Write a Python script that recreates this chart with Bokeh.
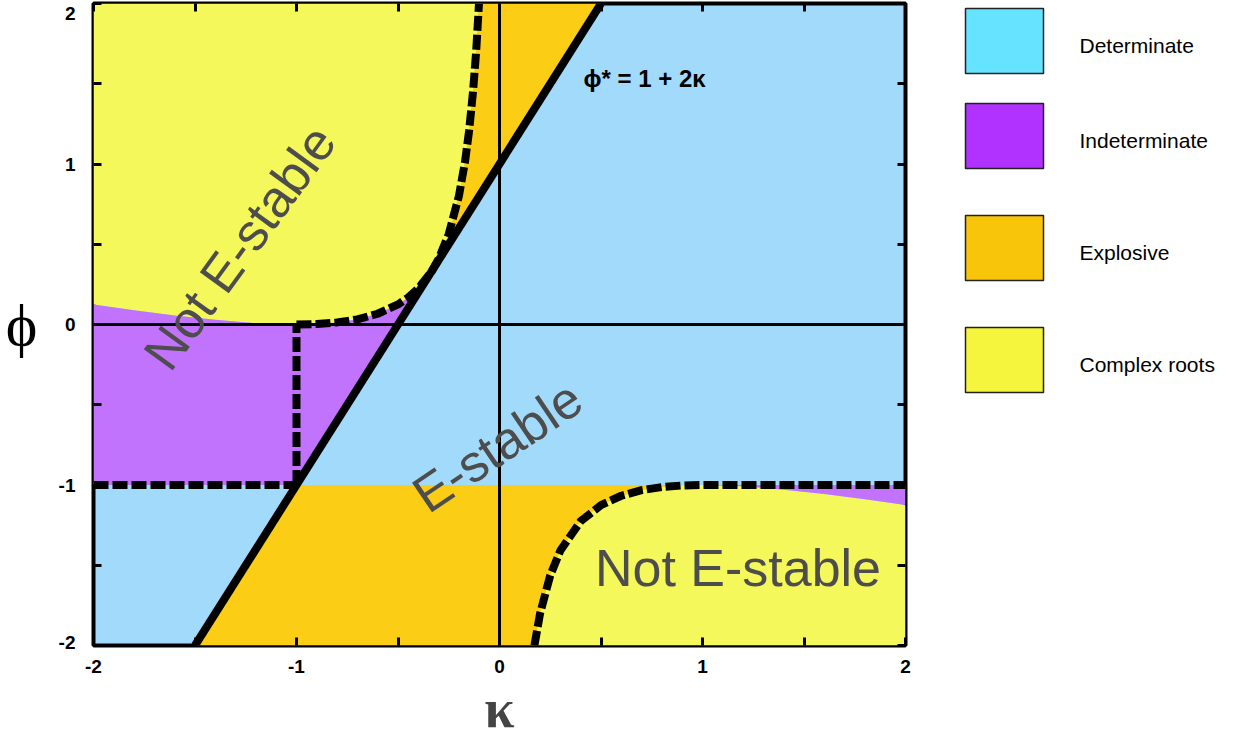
from bokeh.plotting import figure
from bokeh.models import Range1d, FixedTicker, LinearAxis, CustomJSTickFormatter
from bokeh.layouts import row
from bokeh.core.properties import value
from bokeh.embed import file_html
from bokeh.resources import INLINE

# ---------------- data ----------------
# upper stability boundary (complex-root curve, kappa < 0)
kappa_upper = [-2.0, -1.8, -1.6, -1.4, -1.2, -1.0, -0.9, -0.8, -0.7, -0.6, -0.5,
               -0.45, -0.4, -0.333, -0.3, -0.25, -0.2, -0.17, -0.15, -0.13, -0.115, -0.101]
phi_upper = [0.125, 0.089, 0.056, 0.029, 0.008, 0.0, 0.003, 0.013, 0.032, 0.067, 0.125,
             0.168, 0.225, 0.333, 0.408, 0.563, 0.8, 1.013, 1.204, 1.456, 1.70, 2.0]
# lower boundary (complex-root curve, kappa > 0)
kappa_lower = [0.172, 0.2, 0.25, 0.3, 0.4, 0.5, 0.6, 0.7, 0.8, 0.9, 1.0, 1.2, 1.4, 1.6, 1.8, 2.0]
phi_lower = [-2.0, -1.8, -1.563, -1.408, -1.225, -1.125, -1.067, -1.032, -1.013, -1.003,
             -1.0, -1.008, -1.029, -1.056, -1.089, -1.125]
# phi* = 1 + 2 kappa
line_kappa = [-1.5, 0.5]
line_phi = [-2.0, 2.0]
tangent_kappa = -0.333
corner_kappa = -1.0
corner_phi = -1.0
x_lo, x_hi = -2.0, 2.0
y_lo, y_hi = -2.0, 2.0
major_ticks = [-2, -1, 0, 1, 2]
minor_ticks = [-1.5, -0.5, 0.5, 1.5]

legend_labels = ["Determinate", "Indeterminate", "Explosive", "Complex roots"]
legend_colors = ["#66e3ff", "#b131ff", "#f9c50b", "#f4f53c"]

C_BLUE = "#a2dafc"
C_PURPLE = "#c273fe"
C_ORANGE = "#fbcd14"
C_YELLOW = "#f4f85a"

FONT = "Liberation Sans"
W, H = 1233, 738
FW, FH = 812, 642          # frame size
TOP, BOTTOM = 3, 93        # borders
LEFT_FIG = 48
px_per_unit = FH / (y_hi - y_lo)

# ---------------- main figure ----------------
p = figure(frame_width=FW, frame_height=FH, min_border_left=93 - LEFT_FIG, min_border_top=TOP,
           min_border_right=10, min_border_bottom=BOTTOM,
           x_range=Range1d(x_lo, x_hi), y_range=Range1d(y_lo, y_hi),
           output_backend="svg", toolbar_location=None)
p.background_fill_color = C_BLUE
p.border_fill_color = "white"
p.outline_line_color = "black"
p.outline_line_width = 4
p.grid.visible = False

def idx(arr, v):
    return min(range(len(arr)), key=lambda i: abs(arr[i] - v))

it = idx(kappa_upper, tangent_kappa)
ic = idx(kappa_upper, corner_kappa)
il1 = idx(kappa_lower, 1.0)

# yellow (top-left)
p.patch(kappa_upper + [x_lo], phi_upper + [y_hi], color=C_YELLOW, line_width=0)
# orange (top, between curve and boundary line)
p.patch(kappa_upper[it:] + [line_kappa[1]], phi_upper[it:] + [line_phi[1]],
        color=C_ORANGE, line_width=0)
# purple (left)
p.patch(kappa_upper[:it + 1] + [corner_kappa, x_lo], phi_upper[:it + 1] + [corner_phi, corner_phi],
        color=C_PURPLE, line_width=0)
# orange (bottom)
p.patch([corner_kappa] + kappa_lower[:il1 + 1][::-1] + [line_kappa[0]],
        [corner_phi] + phi_lower[:il1 + 1][::-1] + [line_phi[0]],
        color=C_ORANGE, line_width=0)
# yellow (bottom-right)
p.patch(kappa_lower + [x_hi], phi_lower + [y_lo], color=C_YELLOW, line_width=0)
# purple wedge (right)
p.patch([kappa_lower[il1], x_hi] + kappa_lower[il1:][::-1],
        [-1.0, -1.0] + phi_lower[il1:][::-1], color=C_PURPLE, line_width=0)

# coordinate axes
p.line([x_lo, x_hi], [0, 0], line_color="black", line_width=3)
p.line([0, 0], [y_lo, y_hi], line_color="black", line_width=3)

# texts in regions
p.text(x=[-1.28], y=[0.48], text=["Not E-stable"], angle=54, angle_units="deg",
       text_font=value(FONT), text_font_size="52px", text_color="#4d4d4d",
       text_align="center", text_baseline="middle")
p.text(x=[-0.01], y=[-0.76], text=["E-stable"], angle=34, angle_units="deg",
       text_font=value(FONT), text_font_size="52px", text_color="#4d4d4d",
       text_align="center", text_baseline="middle")
p.text(x=[0.47], y=[-1.52], text=["Not E-stable"],
       text_font=value(FONT), text_font_size="52px", text_color="#4d4d4d",
       text_align="left", text_baseline="middle")

# boundary line
p.line(line_kappa, line_phi, line_color="black", line_width=8)

# dashed boundaries
dash = dict(line_color="black", line_width=8, line_dash="15 4")
p.line(kappa_upper[ic:], phi_upper[ic:], **dash)
p.line([corner_kappa, corner_kappa], [corner_phi, 0.0], **dash)
p.line([x_lo, corner_kappa], [corner_phi, corner_phi], **dash)
p.line(kappa_lower[:il1 + 1] + [x_hi], phi_lower[:il1 + 1] + [-1.0], **dash)

p.text(x=[0.414], y=[1.535], text=["ϕ* = 1 + 2κ"], text_font=value(FONT),
       text_font_size="24px", text_font_style="bold", text_color="black",
       text_align="left", text_baseline="middle")

# ---------------- axes ----------------
blank_fmt = CustomJSTickFormatter(code="return '';")
int_fmt = CustomJSTickFormatter(code="return Math.round(tick).toFixed(0);")

def style_ticks(ax):
    ax.ticker = FixedTicker(ticks=major_ticks, minor_ticks=minor_ticks)
    ax.major_tick_in = 8
    ax.major_tick_out = 0
    ax.minor_tick_in = 8
    ax.minor_tick_out = 0
    ax.major_tick_line_width = 3
    ax.minor_tick_line_width = 3
    ax.axis_line_color = None

def style_labels(ax):
    ax.major_label_text_font = FONT
    ax.major_label_text_font_style = "bold"
    ax.major_label_text_color = "black"
    ax.major_label_text_font_size = "19px"

# bottom axis: ticks + labels + kappa title
xb = p.xaxis[0]
style_ticks(xb)
style_labels(xb)
xb.formatter = int_fmt
xb.major_label_standoff = 14
xb.axis_label = "κ"
xb.axis_label_text_font = "Liberation Serif"
xb.axis_label_text_font_size = "54px"
xb.axis_label_text_font_style = "bold"
xb.axis_label_standoff = 3

# left axis (inner): tick marks only
yl = p.yaxis[0]
style_ticks(yl)
yl.formatter = blank_fmt
yl.major_label_standoff = 0

# left axis (outer): labels only; top label nudged down inside the page, bottom nudged up
label_nudge_px = {2: 10, -2: -3}
label_pos = [t - label_nudge_px.get(t, 0) / px_per_unit for t in major_ticks]
yl2 = LinearAxis(ticker=FixedTicker(ticks=label_pos), formatter=int_fmt)
style_labels(yl2)
yl2.major_tick_in = 0
yl2.major_tick_out = 0
yl2.minor_tick_in = 0
yl2.minor_tick_out = 0
yl2.major_tick_line_color = None
yl2.minor_tick_line_color = None
yl2.axis_line_color = None
yl2.major_label_standoff = 18
p.add_layout(yl2, "left")

top_ax = LinearAxis()
right_ax = LinearAxis()
for ax in (top_ax, right_ax):
    style_ticks(ax)
    ax.formatter = blank_fmt
    ax.major_label_standoff = 0
p.add_layout(top_ax, "above")
p.add_layout(right_ax, "right")

# ---------------- left strip (phi title) ----------------
lf = figure(frame_width=LEFT_FIG, frame_height=FH, min_border_left=0, min_border_right=0,
            min_border_top=TOP, min_border_bottom=BOTTOM,
            x_range=Range1d(0, LEFT_FIG), y_range=Range1d(y_lo, y_hi),
            x_axis_location=None, y_axis_location=None,
            output_backend="svg", toolbar_location=None)
lf.outline_line_color = None
lf.grid.visible = False
lf.text(x=[21], y=[0.0], text=["ϕ"], text_font=value("Liberation Serif"),
        text_font_size="60px", text_color="black", text_align="center", text_baseline="middle")

# ---------------- legend figure ----------------
LW = W - LEFT_FIG - (93 - LEFT_FIG) - FW - 10
q = figure(frame_width=LW, frame_height=FH, min_border_left=0, min_border_right=0,
           min_border_top=TOP, min_border_bottom=BOTTOM,
           x_range=Range1d(W - LW, W), y_range=Range1d(TOP + FH, TOP),
           x_axis_location=None, y_axis_location=None,
           output_backend="svg", toolbar_location=None)
q.outline_line_color = None
q.grid.visible = False
q.background_fill_color = "white"

leg_top = [8, 103, 215, 327]
box_h = 65
q.quad(left=[965] * 4, right=[1043] * 4, top=leg_top, bottom=[t + box_h for t in leg_top],
       fill_color=legend_colors, line_color="#222222", line_width=1.5)
q.text(x=[1079] * 4, y=[t + box_h / 2 + 4 for t in leg_top], text=legend_labels,
       text_font=value(FONT), text_font_size="21px", text_color="black",
       text_align="left", text_baseline="middle")

layout = row(lf, p, q, spacing=0)
open("out.html", "w").write(file_html(layout, INLINE))
